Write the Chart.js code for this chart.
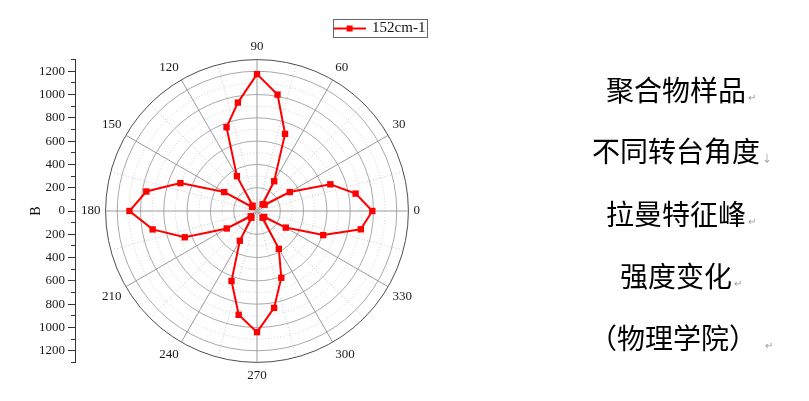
<!DOCTYPE html>
<html>
<head>
<meta charset="utf-8">
<script src="https://cdn.jsdelivr.net/npm/chart.js@4.4.1/dist/chart.umd.min.js"></script>
<style>
  html, body { margin: 0; padding: 0; background: #fff; }
  #wrap { position: relative; width: 809px; height: 401px; overflow: hidden; }
  #wrap canvas { position: absolute; left: 0; top: 0; }
  .note { position: absolute; left: 577px; width: 200px; text-align: center; font-family: "Noto Sans CJK SC", sans-serif; font-size: 28px; line-height: 40px; color: #000; white-space: nowrap; }
  .pm { display: inline-block; width: 0; margin-left: 2px; font-size: 10px; line-height: 10px; color: #999; }
</style>
</head>
<body>
<div id="wrap">
  <canvas id="polar" width="809" height="401"></canvas>
  <canvas id="axis" width="809" height="401"></canvas>
  <div class="note" style="top:69px">聚合物样品<span class="pm">↵</span></div>
  <div class="note" style="top:130px">不同转台角度<span class="pm">↓</span></div>
  <div class="note" style="top:193px">拉曼特征峰<span class="pm">↵</span></div>
  <div class="note" style="top:255px">强度变化<span class="pm">↵</span></div>
  <div class="note" style="top:317px">（物理学院）<span class="pm" style="margin-left:8px">↵</span></div>
</div>
<script>
// 转台角度 (度) 与 152cm-1 峰强度
const seriesName = '152cm-1';
const angles = [0, 10, 20, 30, 40, 50, 60, 70, 80, 90, 100, 110,
                120, 130, 140, 150, 160, 170, 180, 190, 200, 210, 220, 230,
                240, 250, 260, 270, 280, 290, 300, 310, 320, 330, 340, 350];
const intensity = [990, 860, 670, 325, 85, 75, 295, 705, 1015, 1175, 945, 765,
                   345, 60, 55, 325, 700, 965, 1095, 910, 660, 300, 70, 75,
                   295, 640, 905, 1040, 845, 610, 375, 75, 80, 285, 605, 905];
const angleLabels = [0, 30, 60, 90, 120, 150, 180, 210, 240, 270, 300, 330];
const radiusMax = 1300;
const radiusStep = 100;

const serif = "'Liberation Serif', 'Times New Roman', serif";

// radar 从顶部顺时针排列, 每 5 度一个位置 (网格线每 15 度)
const slots = [];
for (let i = 0; i < 72; i++) slots.push((90 - 5 * i + 360) % 360);
const slotData = slots.map(a => {
    const k = angles.indexOf(a);
    return k < 0 ? null : intensity[k];
});
const slotAngle = idx => slots[idx];

const polar = new Chart(document.getElementById('polar'), {
    type: 'radar',
    data: {
        labels: slots.map(String),
        datasets: [{
            label: seriesName, data: slotData, spanGaps: true, fill: false,
            borderColor: '#ff0000', backgroundColor: '#ff0000', borderWidth: 2, tension: 0,
            pointStyle: 'rect', pointRadius: 4.5, pointBorderWidth: 0,
            pointBackgroundColor: '#ff0000', pointBorderColor: '#ff0000'
        }]
    },
    options: {
        responsive: false, animation: false,
        layout: { padding: { left: 57, right: 352, top: 40, bottom: 17 } },
        plugins: { legend: { display: false }, tooltip: { enabled: false } },
        scales: {
            r: {
                min: 0, max: radiusMax,
                ticks: { display: false, stepSize: radiusStep },
                grid: {
                    circular: true, lineWidth: 1,
                    color: c => {
                        const v = c.tick ? c.tick.value : 0;
                        if (v === radiusMax) return '#4d4d4d';
                        return v % 200 === 0 ? '#a8a8a8' : '#cdcdcd';
                    }
                },
                border: {
                    dash: c => {
                        const v = c.tick ? c.tick.value : 0;
                        return (v % 200 !== 0 && v !== radiusMax) ? [1, 2] : [];
                    }
                },
                angleLines: {
                    color: c => {
                        const a = slotAngle(c.index);
                        if (a % 30 === 0) return '#9a9a9a';
                        return a % 15 === 0 ? '#c8c8c8' : 'rgba(0,0,0,0)';
                    },
                    lineWidth: c => (slotAngle(c.index) % 15 === 0 ? 1 : 0),
                    borderDash: c => (slotAngle(c.index) % 30 === 0 ? [] : [1, 2])
                },
                pointLabels: {
                    display: true, padding: 5, color: '#1a1a1a',
                    font: { family: serif, size: 13 },
                    callback: label => (angleLabels.includes(Number(label)) ? label : '')
                }
            }
        }
    }
});

// 左侧 B 轴 + 图例, 与极坐标半径对齐
const r = polar.scales.r;
const plotTop = r.yCenter - r.drawingArea;
const plotBottom = r.yCenter + r.drawingArea;

const icon = document.createElement('canvas');
icon.width = 32; icon.height = 10;
const ic = icon.getContext('2d');
ic.strokeStyle = '#ff0000'; ic.lineWidth = 2;
ic.beginPath(); ic.moveTo(0, 5); ic.lineTo(32, 5); ic.stroke();
ic.fillStyle = '#ff0000'; ic.fillRect(13, 2, 6, 6);

const legendFrame = {
    id: 'legendFrame',
    afterDraw(chart) {
        const box = chart.legend.legendHitBoxes[0];
        if (!box) return;
        const ctx = chart.ctx;
        ctx.save();
        ctx.strokeStyle = '#666';
        ctx.lineWidth = 1;
        ctx.strokeRect(Math.round(box.left) - 1.5, Math.round(box.top) - 1.5,
                       Math.round(box.width) + 3, Math.round(box.height) + 3);
        ctx.restore();
    }
};

const axis = new Chart(document.getElementById('axis'), {
    type: 'line',
    data: { labels: [], datasets: [{ label: seriesName, data: [], borderColor: '#ff0000', backgroundColor: '#ff0000' }] },
    options: {
        responsive: false, animation: false,
        layout: { padding: { left: 24, right: 73, top: 11, bottom: 401 - plotBottom } },
        plugins: {
            tooltip: { enabled: false },
            legend: {
                position: 'top',
                labels: {
                    usePointStyle: true, pointStyle: icon, pointStyleWidth: 30, padding: 10,
                    color: '#111', font: { family: serif, size: 15 }
                }
            },
            title: { display: true, text: '', weight: 500, font: { size: 10 }, padding: { top: 0, bottom: 0 } }
        },
        scales: {
            x: { display: false },
            y: {
                position: 'left', weight: 1, min: -radiusMax, max: radiusMax,
                ticks: {
                    stepSize: radiusStep, autoSkip: false, padding: 3, color: '#1a1a1a',
                    font: { family: serif, size: 13 },
                    callback: v => (v % 200 === 0 ? String(Math.abs(v)) : '')
                },
                grid: {
                    drawOnChartArea: false, tickLength: 7, tickWidth: 1,
                    tickColor: c => (c.tick && c.tick.value % 200 === 0 ? '#333' : 'rgba(0,0,0,0)')
                },
                border: { color: '#333', width: 1 },
                title: { display: true, text: 'B', color: '#111', font: { family: serif, size: 14 }, padding: { top: 4, bottom: 4 } },
                afterFit: s => { s.width = 51; }
            },
            y2: {
                position: 'left', weight: 0, min: -radiusMax, max: radiusMax,
                ticks: { display: false, stepSize: radiusStep },
                grid: { drawOnChartArea: false, tickLength: 4, tickWidth: 1, tickColor: '#333' },
                border: { display: false },
                afterFit: s => { s.width = 0; }
            }
        }
    },
    plugins: [legendFrame]
});
axis.options.plugins.title.padding = { top: 0, bottom: Math.max(0, plotTop - axis.chartArea.top) };
axis.update();
</script>
</body>
</html>
